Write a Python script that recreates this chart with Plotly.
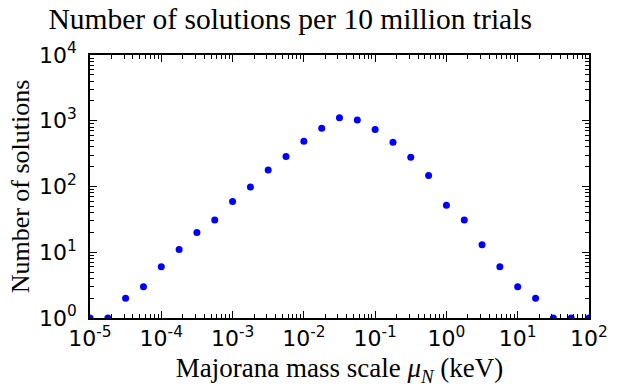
import plotly.graph_objects as go

# Majorana mass scale (keV), quarter-decade bins
mass_kev = [1.0e-5, 1.78e-5, 3.16e-5, 5.62e-5,
            1.0e-4, 1.78e-4, 3.16e-4, 5.62e-4,
            1.0e-3, 1.78e-3, 3.16e-3, 5.62e-3,
            1.0e-2, 1.78e-2, 3.16e-2, 5.62e-2,
            1.0e-1, 1.78e-1, 3.16e-1, 5.62e-1,
            1.0, 1.78, 3.16, 5.62,
            10.0, 17.8, 31.6, 56.2, 100.0]

# Number of solutions found in each bin
solutions = [1, 1, 2, 3,
             6, 11, 20, 31,
             59, 98, 178, 286,
             486, 771, 1106, 1031,
             739, 470, 279, 147,
             52, 31, 13, 6,
             3, 2, 1, 1, 1]

x_tick_vals = [1e-5, 1e-4, 1e-3, 1e-2, 1e-1, 1e0, 1e1, 1e2]
x_tick_text = ["10<sup>-5</sup>", "10<sup>-4</sup>", "10<sup>-3</sup>", "10<sup>-2</sup>",
               "10<sup>-1</sup>", "10<sup>0</sup>", "10<sup>1</sup>", "10<sup>2</sup>"]
y_tick_vals = [1e0, 1e1, 1e2, 1e3, 1e4]
y_tick_text = ["10<sup>0</sup>", "10<sup>1</sup>", "10<sup>2</sup>", "10<sup>3</sup>", "10<sup>4</sup>"]

x_minor = [m * 10.0 ** e for e in range(-5, 2) for m in range(2, 10)]
y_minor = [m * 10.0 ** e for e in range(0, 4) for m in range(2, 10)]

serif = "Liberation Serif"
sans = "DejaVu Sans"

fig = go.Figure()
fig.add_trace(go.Scatter(
    x=mass_kev, y=solutions, mode="markers",
    marker=dict(color="#0000ff", size=7, line=dict(width=0)),
    cliponaxis=True, showlegend=False,
))

axis_common = dict(
    showgrid=False, zeroline=False,
    showline=True, linecolor="black", linewidth=1.5,
    mirror="allticks", ticks="inside", ticklen=7, tickwidth=1, tickcolor="black",
    tickfont=dict(family=sans, size=22, color="black"),
)

fig.update_xaxes(
    type="log", range=[-5, 2],
    tickmode="array", tickvals=x_tick_vals, ticktext=x_tick_text,
    minor=dict(tickmode="array", tickvals=x_minor, ticks="inside", ticklen=4,
               tickwidth=1, tickcolor="black", showgrid=False),
    title=dict(text="Majorana mass scale <i>μ</i><sub><i>N</i></sub> (keV)",
               font=dict(family=serif, size=27, color="black"), standoff=8),
    **axis_common,
)
fig.update_yaxes(
    type="log", range=[0, 4],
    tickmode="array", tickvals=y_tick_vals, ticktext=y_tick_text,
    ticklabelstandoff=7,
    minor=dict(tickmode="array", tickvals=y_minor, ticks="inside", ticklen=4,
               tickwidth=1, tickcolor="black", showgrid=False),
    title=dict(text="Number of solutions",
               font=dict(family=serif, size=26, color="black"), standoff=2),
    **axis_common,
)

fig.update_layout(
    width=620, height=390,
    margin=dict(l=90, r=19, t=55, b=69),
    plot_bgcolor="white", paper_bgcolor="white",
    title=dict(text="Number of solutions per 10 million trials",
               font=dict(family=serif, size=29.5, color="black"),
               xref="container", x=0.468, xanchor="center",
               yref="container", y=0.953, yanchor="middle"),
)

fig.write_html("out.html")
